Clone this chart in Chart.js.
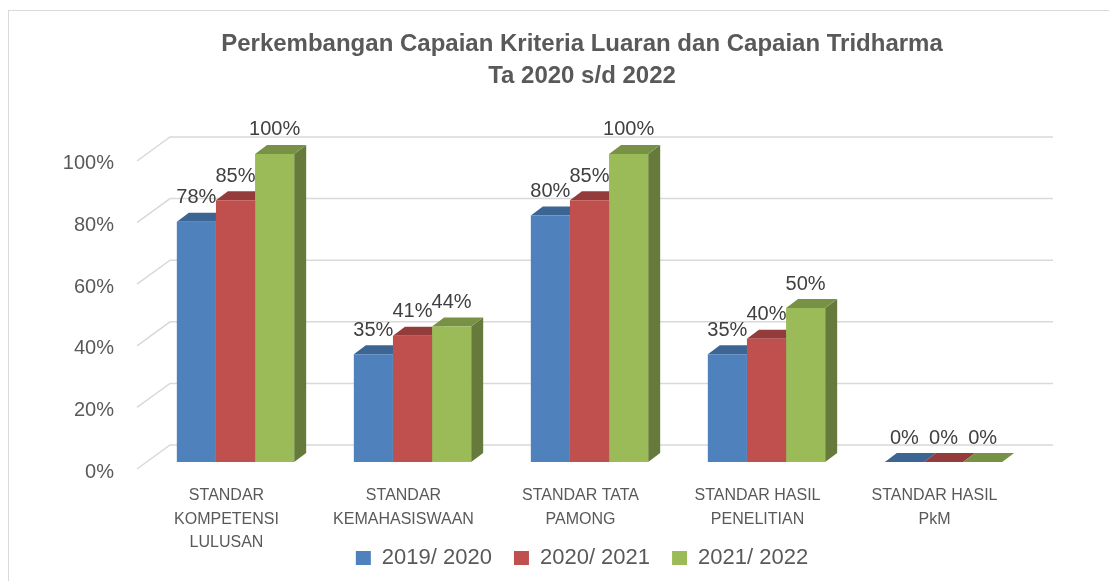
<!DOCTYPE html>
<html>
<head>
<meta charset="utf-8">
<script src="https://cdn.jsdelivr.net/npm/chart.js@4.4.1/dist/chart.umd.min.js"></script>
<style>
  body { margin: 0; background: #fff; overflow: hidden; }
  #frame { position: absolute; left: 8px; top: 10px; width: 1300px; height: 800px; border: 1px solid #d9d9d9; }
  #wrap { position: absolute; left: 0; top: 0; width: 1109px; height: 581px; }
</style>
</head>
<body>
<div id="frame"></div>
<div id="wrap"><canvas id="chart"></canvas></div>
<script>
const categories = [
    ['STANDAR', 'KOMPETENSI', 'LULUSAN'],
    ['STANDAR', 'KEMAHASISWAAN'],
    ['STANDAR TATA', 'PAMONG'],
    ['STANDAR HASIL', 'PENELITIAN'],
    ['STANDAR HASIL', 'PkM'],
];
const seriesNames = ['2019/ 2020', '2020/ 2021', '2021/ 2022'];
const values2019 = [78, 35, 80, 35, 0];
const values2020 = [85, 41, 85, 40, 0];
const values2021 = [100, 44, 100, 50, 0];
const yTicks = [0, 20, 40, 60, 80, 100];

const frontColors = ['#4F81BD', '#C0504D', '#9BBB59'];
const topColors = ['#3D6594', '#943C3B', '#789245'];
const sideColors = ['#345679', '#7E3332', '#667B3B'];

// depth of the fake 3d bars
const DX = 12, DY = -9;

function poly(ctx, pts) {
    ctx.beginPath();
    ctx.moveTo(pts[0][0], pts[0][1]);
    for (let k = 1; k < pts.length; k++) ctx.lineTo(pts[k][0], pts[k][1]);
    ctx.closePath();
    ctx.fill();
}

const bar3d = {
    id: 'bar3d',
    beforeDatasetsDraw(chart) {
        const { ctx, chartArea, scales } = chart;
        ctx.save();
        // back wall + floor gridlines
        ctx.strokeStyle = '#d9d9d9';
        ctx.lineWidth = 1.5;
        yTicks.forEach(v => {
            const py = scales.y.getPixelForValue(v);
            ctx.beginPath();
            ctx.moveTo(chartArea.left - 10, py + 7);
            ctx.lineTo(chartArea.left + 23, py - 17);
            ctx.lineTo(chartArea.right + 21, py - 17);
            ctx.stroke();
        });
        // side and top faces, fronts are drawn by chart.js afterwards
        for (let i = 0; i < chart.data.labels.length; i++) {
            chart.data.datasets.forEach((ds, d) => {
                const bar = chart.getDatasetMeta(d).data[i];
                const { x, y, base, width } = bar.getProps(['x', 'y', 'base', 'width'], true);
                const l = x - width / 2, r = x + width / 2;
                ctx.fillStyle = sideColors[d];
                poly(ctx, [[r, y], [r + DX, y + DY], [r + DX, base + DY], [r, base]]);
                ctx.fillStyle = topColors[d];
                poly(ctx, [[l, y], [l + DX, y + DY], [r + DX, y + DY], [r, y]]);
            });
        }
        ctx.restore();
    },
    afterDatasetsDraw(chart) {
        const { ctx } = chart;
        ctx.save();
        ctx.font = '20px "Liberation Sans"';
        ctx.fillStyle = '#404040';
        ctx.textAlign = 'center';
        ctx.textBaseline = 'middle';
        chart.data.datasets.forEach((ds, d) => {
            chart.getDatasetMeta(d).data.forEach((bar, i) => {
                ctx.fillText(ds.data[i] + '%', bar.x, bar.y - 24);
            });
        });
        ctx.restore();
    },
    afterDraw(chart) {
        // category labels sit on the front edge of the floor, under the x scale
        const { ctx, chartArea, scales } = chart;
        ctx.save();
        ctx.font = '16px "Liberation Sans"';
        ctx.fillStyle = '#595959';
        ctx.textAlign = 'center';
        ctx.textBaseline = 'middle';
        chart.data.labels.forEach((lines, i) => {
            const px = scales.x.getPixelForValue(i) - 9;
            lines.forEach((line, k) => {
                ctx.fillText(line, px, chartArea.bottom + 34 + k * 23.5);
            });
        });
        ctx.restore();
    },
};

Chart.defaults.font.family = '"Liberation Sans", Arial, sans-serif';
Chart.defaults.color = '#595959';

new Chart(document.getElementById('chart'), {
    type: 'bar',
    data: {
        labels: categories,
        datasets: [
            { label: seriesNames[0], data: values2019, backgroundColor: frontColors[0], borderWidth: 0 },
            { label: seriesNames[1], data: values2020, backgroundColor: frontColors[1], borderWidth: 0 },
            { label: seriesNames[2], data: values2021, backgroundColor: frontColors[2], borderWidth: 0 },
        ],
    },
    options: {
        responsive: true,
        maintainAspectRatio: false,
        animation: false,
        categoryPercentage: 0.663,
        barPercentage: 1,
        layout: {
            padding: { top: 10, left: 57, right: 2, bottom: 2 },
        },
        plugins: {
            title: {
                display: true,
                text: ['Perkembangan Capaian Kriteria Luaran dan Capaian Tridharma', 'Ta 2020 s/d 2022'],
                color: '#595959',
                font: { size: 24, weight: 'bold', lineHeight: 1.333 },
                padding: { top: 18, bottom: 62 },
            },
            legend: {
                position: 'bottom',
                labels: {
                    boxWidth: 15,
                    boxHeight: 14,
                    padding: 22,
                    color: '#595959',
                    font: { size: 22 },
                },
            },
            tooltip: { enabled: false },
        },
        scales: {
            x: {
                grid: { display: false, drawTicks: false },
                border: { display: false },
                ticks: { display: false },
                afterFit(scale) { scale.height = 63; },
            },
            y: {
                min: 0,
                max: 100,
                grid: { display: false, drawTicks: false },
                border: { display: false },
                ticks: {
                    stepSize: 20,
                    padding: 33,
                    labelOffset: 10,
                    color: '#595959',
                    font: { size: 20 },
                    callback: (v) => v + '%',
                },
                afterFit(scale) { scale.width = 90; },
            },
            // empty right axis, only reserves the space right of the back wall
            yRight: {
                position: 'right',
                grid: { display: false, drawTicks: false },
                border: { display: false },
                ticks: { display: false },
                afterFit(scale) { scale.width = 75; },
            },
        },
    },
    plugins: [bar3d],
});
</script>
</body>
</html>
